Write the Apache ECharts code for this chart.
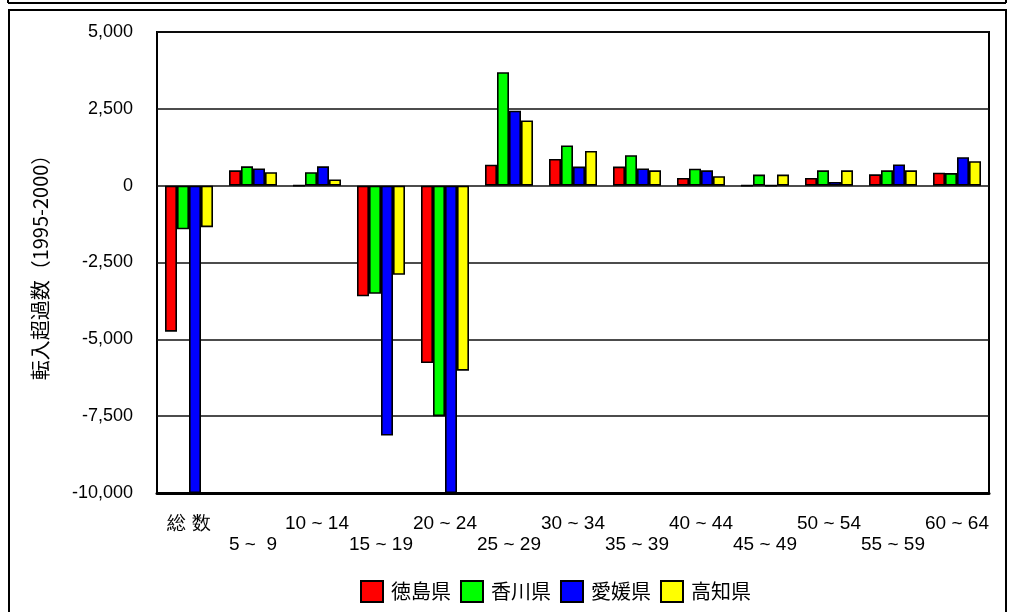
<!DOCTYPE html>
<html>
<head>
<meta charset="utf-8">
<script src="https://cdn.jsdelivr.net/npm/echarts@6/dist/echarts.min.js"></script>
<style>
html,body{margin:0;padding:0;background:#fff;}
#chart{width:1013px;height:612px;}
</style>
</head>
<body>
<div id="chart"></div>
<script>
// Data
const categories = ['総 数','5 ~  9','10 ~ 14','15 ~ 19','20 ~ 24','25 ~ 29','30 ~ 34','35 ~ 39','40 ~ 44','45 ~ 49','50 ~ 54','55 ~ 59','60 ~ 64'];
const seriesNames = ['徳島県','香川県','愛媛県','高知県'];
const tokushima = [-4750, 500, 0, -3600, -5770, 680, 870, 620, 250, 0, 250, 370, 420];
const kagawa    = [-1420, 630, 440, -3520, -7500, 3690, 1310, 990, 550, 360, 500, 500, 410];
const ehime     = [-10000, 560, 630, -8130, -10000, 2440, 620, 560, 500, 0, 120, 690, 925];
const kochi     = [-1350, 440, 200, -2900, -6020, 2120, 1130, 500, 310, 360, 500, 500, 795];
const colors = ['#FF0000','#00FF00','#0000FF','#FFFF00'];
const yTitle = '転入超過数（1995-2000）';

const chart = echarts.init(document.getElementById('chart'), null, {renderer:'canvas'});
const values = [tokushima, kagawa, ehime, kochi];
const series = seriesNames.map((n,i)=>({
  name:n, type:'bar', xAxisIndex:0, data:values[i],
  barWidth:12, barGap:'0%',
  itemStyle:{color:colors[i], borderColor:'#000', borderWidth:1.6},
  emphasis:{disabled:true}
}));

chart.setOption({
  animation:false,
  backgroundColor:'#fff',
  graphic:[
    {type:'line', shape:{x1:8,y1:0,x2:8,y2:3}, style:{stroke:'#000',lineWidth:2}},
    {type:'line', shape:{x1:1006,y1:0,x2:1006,y2:3}, style:{stroke:'#000',lineWidth:2}},
    {type:'line', shape:{x1:8,y1:3,x2:1006,y2:3}, style:{stroke:'#000',lineWidth:2}},
    {type:'rect', shape:{x:9,y:10,width:997,height:610}, style:{fill:null,stroke:'#000',lineWidth:2}}
  ],
  grid:{left:157, top:32, right:24, bottom:119, show:true, borderColor:'#000', borderWidth:2, containLabel:false},
  legend:{
    data:seriesNames, left:355, top:575, itemWidth:22, itemHeight:21, itemGap:9,
    icon:'rect',
    textStyle:{fontFamily:'Noto Sans CJK JP', fontSize:20, color:'#000', padding:[0,0,0,3]}
  },
  xAxis:[{
    type:'category', data:categories, position:'bottom',
    axisLine:{onZero:false, lineStyle:{color:'#000', width:3}},
    axisTick:{alignWithLabel:true, length:6, lineStyle:{color:'#000', width:1.5}},
    axisLabel:{interval:0, margin:20, color:'#000', fontFamily:'Liberation Sans', fontSize:19, lineHeight:21,
      formatter:(v,i)=> i%2===0 ? v : '\n'+v},
    splitLine:{show:false}
  },{
    type:'category', data:categories, position:'bottom',
    axisLine:{onZero:false, show:false},
    axisTick:{alignWithLabel:true, inside:true, length:6, lineStyle:{color:'#000', width:1.5}},
    axisLabel:{show:false}, splitLine:{show:false}
  }],
  yAxis:{
    type:'value', min:-10000, max:5000, interval:2500,
    name:yTitle, nameLocation:'middle', nameGap:107, nameRotate:90,
    nameTextStyle:{fontFamily:'Noto Sans CJK JP', fontSize:20, color:'#000'},
    axisLine:{show:false}, axisTick:{show:false},
    axisLabel:{margin:24, color:'#000', fontFamily:'Liberation Sans', fontSize:18,
      formatter:v=>v.toLocaleString('en-US')},
    splitLine:{lineStyle:{color:'#111', width:1.5}}
  },
  series:series
});
</script>
</body>
</html>
